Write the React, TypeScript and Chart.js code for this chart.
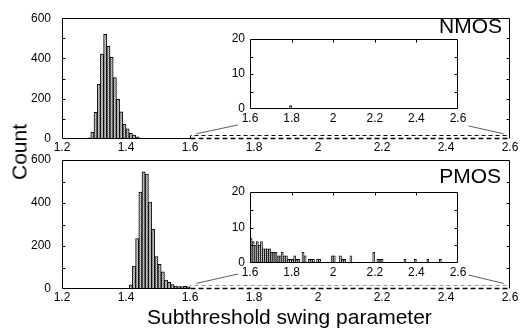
import React, { useEffect, useRef } from 'react';
import { Chart, registerables } from 'chart.js';

Chart.register(...registerables);

const FONT = "'Liberation Sans', Arial, Helvetica, sans-serif";

// ---- axis ticks / labels ----
const mainXTicks = [1.2, 1.4, 1.6, 1.8, 2.0, 2.2, 2.4, 2.6];
const mainXTickLabels = ['1.2', '1.4', '1.6', '1.8', '2', '2.2', '2.4', '2.6'];
const mainYLabelled = [0, 200, 400, 600];
const insetXTicks = [1.6, 1.8, 2.0, 2.2, 2.4, 2.6];
const insetXTickLabels = ['1.6', '1.8', '2', '2.2', '2.4', '2.6'];
const insetYLabelled = [0, 10, 20];

// ---- NMOS histogram (bin centres, counts) ----
const nmosBins = [1.285, 1.295, 1.305, 1.315, 1.325, 1.335, 1.345, 1.355, 1.365, 1.375, 1.385, 1.395, 1.405, 1.415, 1.425, 1.435, 1.445, 1.455, 1.465, 1.475, 1.485];
const nmosCounts = [6, 33, 132, 271, 422, 520, 460, 406, 305, 197, 135, 74, 50, 28, 19, 11, 5, 3, 2, 2, 1];
// NMOS tail (inset 1.6–2.6)
const nmosTailBins = [1.795];
const nmosTailCounts = [1];

// ---- PMOS histogram ----
const pmosBins = [1.415, 1.425, 1.435, 1.445, 1.455, 1.465, 1.475, 1.485, 1.495, 1.505, 1.515, 1.525, 1.535, 1.545, 1.555, 1.565, 1.575, 1.585, 1.595];
const pmosCounts = [19, 107, 235, 451, 545, 534, 404, 279, 151, 115, 80, 42, 31, 20, 14, 11, 11, 12, 10];
// PMOS tail (inset 1.6–2.6)
const pmosTailBins = [1.605, 1.615, 1.625, 1.635, 1.645, 1.655, 1.665, 1.675, 1.685, 1.695, 1.705, 1.715, 1.725, 1.735, 1.745, 1.755, 1.765, 1.775, 1.785, 1.795, 1.805, 1.815, 1.825, 1.835, 1.855, 1.865, 1.885, 1.895, 1.905, 1.925, 1.935, 1.995, 2.005, 2.035, 2.045, 2.055, 2.085, 2.195, 2.215, 2.225, 2.235, 2.345, 2.395, 2.455, 2.515];
const pmosTailCounts = [7, 6, 5, 6, 5, 6, 4, 4, 4, 4, 3, 3, 3, 2, 2, 3, 2, 2, 1, 1, 1, 2, 1, 1, 3, 2, 1, 1, 1, 1, 1, 2, 2, 2, 1, 1, 2, 3, 1, 1, 1, 1, 1, 1, 1];

// zoom window drawn on the main panels, and connector lines (data units of main panel)
const zoomWindow = { x0: 1.6, x1: 2.6, y: 20 };
const connectors = [
  [1.62, 26, 1.75, 70],
  [2.47, 65, 2.58, 26],
];

function makePattern(): CanvasPattern | string {
  const c = document.createElement('canvas');
  c.width = 2; c.height = 2;
  const g = c.getContext('2d');
  if (!g) return '#bbb';
  g.fillStyle = '#d8d8d8'; g.fillRect(0, 0, 2, 2);
  g.fillStyle = '#9c9c9c'; g.fillRect(0, 0, 1, 1); g.fillRect(1, 1, 1, 1);
  return g.createPattern(c, 'repeat') || '#bbb';
}

const framePlugin = {
  id: 'frame',
  beforeDatasetsDraw(chart: any, _args: any, o: any) {
    if (!o || !o.bg) return;
    const { ctx, chartArea: a } = chart;
    ctx.save();
    ctx.fillStyle = o.bg;
    ctx.fillRect(a.left, a.top, a.right - a.left, a.bottom - a.top);
    ctx.restore();
  },
  afterDatasetsDraw(chart: any, _args: any, o: any) {
    const { ctx, chartArea: a, scales } = chart;
    const xs = scales.x, ys = scales.y;
    const L = Math.round(a.left) + 0.5, R = Math.round(a.right) - 0.5;
    const T = Math.round(a.top) + 0.5, B = Math.round(a.bottom) - 0.5;
    ctx.save();
    ctx.strokeStyle = '#000';
    ctx.lineWidth = 1;
    ctx.beginPath();
    ctx.moveTo(L, B); ctx.lineTo(L, T); ctx.lineTo(R, T); ctx.lineTo(R, B);
    ctx.stroke();
    // bottom edge
    if (o.zoom) {
      const zx0 = Math.round(xs.getPixelForValue(o.zoom.x0)) + 0.5;
      ctx.beginPath(); ctx.moveTo(L, B); ctx.lineTo(zx0, B); ctx.stroke();
      ctx.save();
      ctx.lineWidth = 1.6;
      ctx.setLineDash([5, 3]);
      ctx.beginPath(); ctx.moveTo(zx0, B); ctx.lineTo(R, B); ctx.stroke();
      ctx.restore();
      const zy = Math.round(ys.getPixelForValue(o.zoom.y)) + 0.5;
      ctx.save();
      ctx.strokeStyle = o.zoomColor || '#000';
      ctx.lineWidth = 1;
      ctx.setLineDash([4, 3]);
      ctx.beginPath(); ctx.moveTo(zx0, B); ctx.lineTo(zx0, zy); ctx.lineTo(R, zy); ctx.stroke();
      ctx.restore();
    } else {
      ctx.beginPath(); ctx.moveTo(L, B); ctx.lineTo(R, B); ctx.stroke();
    }
    // y ticks pointing inwards
    const tl = o.tickLen || 3;
    (o.yTicks || []).forEach((v: number) => {
      const y = Math.round(ys.getPixelForValue(v)) + 0.5;
      ctx.beginPath();
      ctx.moveTo(L, y); ctx.lineTo(L + tl, y);
      ctx.moveTo(R, y); ctx.lineTo(R - tl, y);
      ctx.stroke();
    });
    (o.xTicksTop || []).forEach((v: number) => {
      const x = Math.round(xs.getPixelForValue(v)) + 0.5;
      ctx.beginPath(); ctx.moveTo(x, T); ctx.lineTo(x, T + tl); ctx.stroke();
    });
    // connector lines
    if (o.links) {
      ctx.strokeStyle = '#333';
      ctx.lineWidth = 0.8;
      o.links.forEach((l: number[]) => {
        ctx.beginPath();
        ctx.moveTo(xs.getPixelForValue(l[0]), ys.getPixelForValue(l[1]));
        ctx.lineTo(xs.getPixelForValue(l[2]), ys.getPixelForValue(l[3]));
        ctx.stroke();
      });
    }
    ctx.restore();
  },
};

function labelFrom(ticks: number[], labels: string[]) {
  return (v: any) => {
    const i = ticks.findIndex((t) => Math.abs(t - Number(v)) < 1e-6);
    return i >= 0 ? labels[i] : '';
  };
}

type Geo = { left: number; right: number; top: number; bottom: number; yW: number; xH: number };

function makeConfig(opts: {
  bins: number[]; counts: number[]; geo: Geo; xMin: number; xMax: number; xTicks: number[]; xLabels: string[];
  yMax: number; yStep: number; yLabelled: number[]; yPad: number; xPad: number; frame: any; barThickness?: number; borderWidth: number;
}): any {
  const g = opts.geo;
  const fontSpec = { family: FONT, size: 12 };
  return {
    type: 'bar',
    data: {
      datasets: [{
        data: opts.bins.map((b, i) => ({ x: b, y: opts.counts[i] })),
        backgroundColor: makePattern(),
        borderColor: '#000',
        borderWidth: opts.borderWidth,
        barPercentage: 1,
        categoryPercentage: 1,
        barThickness: opts.barThickness,
      }],
    },
    options: {
      responsive: false,
      devicePixelRatio: 1,
      animation: false,
      events: [],
      layout: { padding: { left: g.left - g.yW, right: 521 - g.right, top: g.top, bottom: 334 - g.bottom - g.xH } },
      plugins: { legend: { display: false }, tooltip: { enabled: false }, frame: opts.frame },
      scales: {
        x: {
          type: 'linear', offset: false, min: opts.xMin, max: opts.xMax,
          grid: { display: false, drawTicks: false }, border: { display: false },
          ticks: { stepSize: 0.2, autoSkip: false, maxRotation: 0, color: '#000', font: fontSpec, padding: opts.xPad, callback: labelFrom(opts.xTicks, opts.xLabels) },
          afterFit: (s: any) => { s.height = g.xH; },
        },
        y: {
          type: 'linear', min: 0, max: opts.yMax,
          grid: { display: false, drawTicks: false }, border: { display: false },
          ticks: { stepSize: opts.yStep, autoSkip: false, color: '#000', font: fontSpec, padding: opts.yPad, callback: (v: any) => (opts.yLabelled.includes(Number(v)) ? String(v) : '') },
          afterFit: (s: any) => { s.width = g.yW; },
        },
      },
    },
    plugins: [framePlugin],
  };
}

export default function App() {
  const c1 = useRef<HTMLCanvasElement>(null);
  const c2 = useRef<HTMLCanvasElement>(null);
  const c3 = useRef<HTMLCanvasElement>(null);
  const c4 = useRef<HTMLCanvasElement>(null);

  useEffect(() => {
    document.body.style.margin = '0';
    const mainY = [100, 200, 300, 400, 500];
    const insetY = [5, 10, 15];
    const insetXTop = [1.8, 2.0, 2.2, 2.4];
    const charts = [
      new Chart(c1.current as any, makeConfig({
        bins: nmosBins, counts: nmosCounts, geo: { left: 62, right: 510, top: 9, bottom: 139, yW: 40, xH: 20 },
        xMin: 1.2, xMax: 2.6, xTicks: mainXTicks, xLabels: mainXTickLabels, yMax: 600, yStep: 100, yLabelled: mainYLabelled,
        yPad: 11, xPad: 1, borderWidth: 1,
        frame: { zoom: zoomWindow, zoomColor: '#000', yTicks: mainY, links: connectors },
      })),
      new Chart(c2.current as any, makeConfig({
        bins: pmosBins, counts: pmosCounts, geo: { left: 62, right: 510, top: 160, bottom: 289, yW: 40, xH: 20 },
        xMin: 1.2, xMax: 2.6, xTicks: mainXTicks, xLabels: mainXTickLabels, yMax: 600, yStep: 100, yLabelled: mainYLabelled,
        yPad: 11, xPad: 1, borderWidth: 1,
        frame: { zoom: zoomWindow, zoomColor: '#999', yTicks: mainY, links: connectors },
      })),
      new Chart(c3.current as any, makeConfig({
        bins: nmosTailBins, counts: nmosTailCounts, geo: { left: 250, right: 458, top: 39, bottom: 109, yW: 30, xH: 20 },
        xMin: 1.6, xMax: 2.6, xTicks: insetXTicks, xLabels: insetXTickLabels, yMax: 20, yStep: 5, yLabelled: insetYLabelled,
        yPad: 5, xPad: 2, borderWidth: 1, barThickness: 2,
        frame: { bg: '#fff', yTicks: insetY, xTicksTop: insetXTop },
      })),
      new Chart(c4.current as any, makeConfig({
        bins: pmosTailBins, counts: pmosTailCounts, geo: { left: 250, right: 458, top: 192, bottom: 263, yW: 30, xH: 20 },
        xMin: 1.6, xMax: 2.6, xTicks: insetXTicks, xLabels: insetXTickLabels, yMax: 20, yStep: 5, yLabelled: insetYLabelled,
        yPad: 5, xPad: 2, borderWidth: 0.8,
        frame: { bg: '#fff', yTicks: insetY, xTicksTop: insetXTop },
      })),
    ];
    return () => charts.forEach((c) => c.destroy());
  }, []);

  const cv: React.CSSProperties = { position: 'absolute', left: 0, top: 0, width: 521, height: 334 };
  const big: React.CSSProperties = { position: 'absolute', fontFamily: FONT, fontSize: 21, lineHeight: '21px', color: '#000', whiteSpace: 'nowrap' };
  return (
    <div style={{ position: 'fixed', left: 0, top: 0, width: 521, height: 334, background: '#fff', overflow: 'hidden' }}>
      <canvas ref={c1} width={521} height={334} style={cv} />
      <canvas ref={c2} width={521} height={334} style={cv} />
      <canvas ref={c3} width={521} height={334} style={cv} />
      <canvas ref={c4} width={521} height={334} style={cv} />
      <div style={{ ...big, right: 19, top: 15 }}>NMOS</div>
      <div style={{ ...big, right: 20, top: 165 }}>PMOS</div>
      <div style={{ ...big, left: 147, top: 306 }}>Subthreshold swing parameter</div>
      <div style={{ ...big, left: 19, top: 152, width: 100, textAlign: 'center', transform: 'translate(-50%, -50%) rotate(-90deg)' }}>Count</div>
    </div>
  );
}
